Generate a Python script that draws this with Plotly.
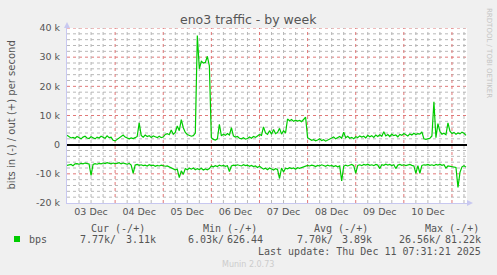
import plotly.graph_objects as go
import pandas as pd

# ---- data (hourly samples starting 2025-12-03 00:00), values in kbit/s ----
start_time = "2025-12-03 00:00"
out_k = [
    3.2, 2.6, 2.3, 2.5, 2.2, 2.8, 2.4, 2.0, 2.6, 2.9, 2.3, 2.1, 2.7,
    2.4, 2.0, 2.6, 2.3, 2.9, 2.5, 2.2, 3.0, 2.4, 2.6, 1.5, 1.3,
    1.8, 2.4, 3.0, 3.3, 2.6, 2.2, 2.0, 2.3, 2.1, 2.4, 2.8, 7.5,
    3.2, 2.6, 3.3, 2.8, 3.1, 2.5, 3.0, 2.7, 2.4, 2.9, 2.4, 2.6,
    3.5, 3.8, 3.4, 5.0, 3.6, 4.2, 6.4, 4.8, 8.6, 5.8, 4.2, 3.5, 3.2, 2.9, 3.1, 4.0,
    37.4, 26.0, 28.6, 28.0, 28.2, 30.3, 27.0,
    2.4, 1.8, 1.6, 2.0, 7.0, 3.0, 3.6, 3.2, 3.8, 3.3, 5.8, 3.0, 2.6, 2.8, 2.2, 2.0,
    2.4, 1.9, 2.1, 2.6, 2.2, 2.8, 2.5, 3.0, 3.5,
    3.2, 6.1, 4.0, 3.5, 4.8, 3.6, 5.2, 3.8, 4.2, 5.6, 3.6, 4.8, 4.0,
    8.8, 8.2, 8.6, 8.0, 8.4, 8.1, 8.3, 7.9, 8.5, 9.4,
    2.4, 1.8, 1.5, 1.7, 1.3, 1.6, 2.0, 1.4, 1.7, 1.2, 1.6, 1.9, 2.2, 2.6, 2.0, 2.4,
    2.8, 2.2, 4.3, 2.4, 2.9, 2.2, 2.5, 2.0, 2.7,
    2.4, 3.0, 2.6, 2.9, 2.3, 3.2, 2.7, 3.1, 2.5, 3.3, 2.8, 3.4, 2.9, 4.4, 3.0, 3.5,
    2.8, 3.6, 3.1, 3.3, 2.7, 3.5, 3.2, 3.8,
    3.4, 3.0, 3.7, 3.3, 3.9, 3.5, 3.8, 3.6, 4.4, 2.0, 1.8, 1.9, 2.2, 3.0, 14.7, 2.4,
    7.2, 4.5, 3.6, 3.9, 3.4, 7.5, 4.6, 3.8, 4.2, 3.6, 4.0, 3.7, 4.3, 3.9, 3.2,
]
in_k = [
    -7.1, -7.0, -6.8, -7.2, -6.6, -6.5, -6.7, -6.4, -6.6, -6.3, -6.5, -6.6, -10.5,
    -6.8, -6.5, -6.7, -6.4, -6.6, -6.3, -6.5, -6.2, -6.4, -6.6, -6.3, -6.5,
    -6.4, -6.2, -6.6, -6.3, -6.5, -6.7, -6.4, -7.0, -9.8, -7.0, -6.8, -7.1,
    -6.9, -7.2, -7.0, -7.3, -6.9, -7.2, -7.0, -7.4, -7.1, -7.3, -7.0, -7.2,
    -7.4, -7.3, -7.6, -7.8, -8.2, -8.6, -8.4, -11.3, -9.0, -10.2, -8.2, -8.6,
    -8.1, -8.4, -8.0, -8.6, -8.2, -8.5, -8.1, -8.7, -8.3, -8.6, -8.2,
    -7.3, -7.6, -7.2, -7.5, -7.0, -7.3, -7.1, -7.4, -7.2, -9.2, -7.3, -7.0,
    -7.2, -6.9, -7.1, -7.3, -6.9, -7.2, -7.0, -7.4, -7.1, -7.5, -7.3, -7.8, -7.4,
    -7.9, -8.4, -8.1, -8.6, -8.0, -8.3, -8.7, -8.2, -8.5, -11.6, -8.0, -9.4, -8.1,
    -8.3, -7.9, -8.2, -8.0, -8.4, -7.9, -8.1, -7.8, -7.6, -7.4,
    -7.1, -7.3, -7.0, -7.2, -7.5, -7.1, -7.3, -6.9, -7.2, -7.4, -7.0, -7.3,
    -7.1, -7.5, -7.2, -7.6, -7.3, -12.4, -7.4, -7.0, -7.3, -7.1, -6.8, -7.2, -9.8,
    -7.1, -6.9, -7.2, -6.8, -7.0, -6.7, -7.1, -6.9, -7.2, -6.8, -7.0, -8.2,
    -6.9, -7.1, -6.7, -7.0, -6.8, -7.2, -6.9, -8.2, -7.0, -6.8, -7.1, -6.9,
    -7.2, -7.0, -6.8, -7.1, -7.3, -9.8, -7.2, -9.8, -7.1, -6.9, -7.0, -6.8,
    -7.1, -6.9, -7.2, -6.8, -7.0, -6.7, -7.1, -6.9, -8.0, -7.3, -7.4, -7.6,
    -7.5, -7.8, -14.7, -9.5, -7.6, -7.2, -7.7,
]
y_tickvals = [-20000, -10000, 0, 10000, 20000, 30000, 40000]
y_ticktext = ["-20 k", "-10 k", "0", "10 k", "20 k", "30 k", "40 k"]

legend_header = ["Cur (-/+)", "Min (-/+)", "Avg (-/+)", "Max (-/+)"]
legend_in = ["7.77k/", "6.03k/", "7.70k/", "26.56k/"]
legend_out = ["3.11k", "626.44", "3.89k", "81.22k"]
last_update = "Last update: Thu Dec 11 07:31:21 2025"

x_start, x_end = "2025-12-03 00:00", "2025-12-11 07:30"
y_min, y_max = -20000, 40000

times = pd.date_range(start_time, periods=len(out_k), freq="h")
out_vals = [v * 1000 for v in out_k]
in_vals = [v * 1000 for v in in_k]

W, H = 497, 275
L, R, T, B = 67, 30, 28, 72
PW, PH = W - L - R, H - T - B

def px(x):
    return (x - L) / PW

def py(y):
    return (H - B - y) / PH

GREEN = "#00CC00"
TXT = "#555555"
AXIS = "#C8C8F0"
MAJOR = "#E07878"
MINOR = "#B8B8B8"

fig = go.Figure()
fig.add_trace(go.Scatter(x=times, y=out_vals, mode="lines",
                         line=dict(color=GREEN, width=1.2), hoverinfo="skip"))
fig.add_trace(go.Scatter(x=times, y=in_vals, mode="lines",
                         line=dict(color=GREEN, width=1.2), hoverinfo="skip"))

fig.update_layout(
    width=W, height=H,
    margin=dict(l=L, r=R, t=T, b=B),
    paper_bgcolor="#F0F0F0", plot_bgcolor="white",
    showlegend=False,
    font=dict(family="DejaVu Sans", size=9.5, color=TXT),
)
fig.update_xaxes(
    type="date", range=[x_start, x_end],
    tick0="2025-12-03", dtick=86400000,
    ticklabelmode="period", tickformat="%d %b",
    showgrid=False, showline=True, linecolor=AXIS, linewidth=1,
    ticks="", zeroline=False,
    tickfont=dict(size=9.5, color=TXT),
)
fig.update_yaxes(
    range=[y_min, y_max],
    tickvals=y_tickvals, ticktext=y_ticktext,
    showgrid=False, showline=True, linecolor=AXIS, linewidth=1,
    zeroline=True, zerolinecolor="black", zerolinewidth=1.5,
    ticks="", ticklabelstandoff=4,
    tickfont=dict(size=9.5, color=TXT),
)

shapes = []
# grid: horizontal lines every 2k, red at every 10k
for v in range(y_min + 2000, y_max + 1, 2000):
    if v == 0:
        continue
    shapes.append(dict(type="line", xref="paper", yref="y", x0=0, x1=1, y0=v, y1=v,
                       layer="below",
                       line=dict(color=MAJOR if v % 10000 == 0 else MINOR,
                                 width=1, dash="dot")))
# grid: vertical lines every 6 h, red at midnight
grid_times = pd.date_range("2025-12-03 06:00", x_end, freq="6h")
for t in grid_times:
    shapes.append(dict(type="line", xref="x", yref="paper", x0=t, x1=t, y0=0, y1=1,
                       layer="below",
                       line=dict(color=MAJOR if t.hour == 0 else MINOR,
                                 width=1, dash="dot")))
# legend colour box
shapes.append(dict(type="rect", xref="paper", yref="paper", x0=px(14), x1=px(20),
                   y0=py(242), y1=py(236), fillcolor=GREEN, line=dict(width=0)))
# axis arrows
shapes.append(dict(type="path", xref="paper", yref="paper",
                   path=f"M {px(64)} {py(28)} L {px(70)} {py(28)} L {px(67)} {py(22)} Z",
                   fillcolor=AXIS, line=dict(width=0)))
shapes.append(dict(type="path", xref="paper", yref="paper",
                   path=f"M {px(467)} {py(200)} L {px(467)} {py(206)} L {px(473)} {py(203)} Z",
                   fillcolor=AXIS, line=dict(width=0)))
fig.update_layout(shapes=shapes)

ann = []
def add(text, x, y, xanchor="left", size=10, color=TXT, family="DejaVu Sans Mono", angle=0):
    ann.append(dict(text=text, x=px(x), y=py(y), xref="paper", yref="paper",
                    xanchor=xanchor, yanchor="middle", showarrow=False,
                    textangle=angle,
                    font=dict(family=family, size=size, color=color)))

add("eno3 traffic - by week", 248.5, 19.5, xanchor="center", size=12.5,
    family="DejaVu Sans")
add("bits in (-) / out (+) per second", 10.5, 115, xanchor="center", size=10,
    family="DejaVu Sans", angle=-90)
add("RRDTOOL / TOBI OETIKER", 489, 53, xanchor="center", size=7,
    family="DejaVu Sans", color="#C4C4C4", angle=90)

hdr_x = [89.3, 201, 312.3, 422.7]
for t, x in zip(legend_header, hdr_x):
    add(t, x, 228)
add("bps", 26.7, 239.5)
in_x = [78.3, 186, 295, 396.7]
out_x = [157.7, 264.7, 374.3, 482.7]
for t, x in zip(legend_in, in_x):
    add(t, x, 239.5)
for t, x in zip(legend_out, out_x):
    add(t, x, 239.5, xanchor="right")
add(last_update, 482.7, 251, xanchor="right")
add("Munin 2.0.73", 248, 264.5, xanchor="center", size=8, family="DejaVu Sans",
    color="#CCCCCC")
fig.update_layout(annotations=ann)

fig.write_html("out.html")
